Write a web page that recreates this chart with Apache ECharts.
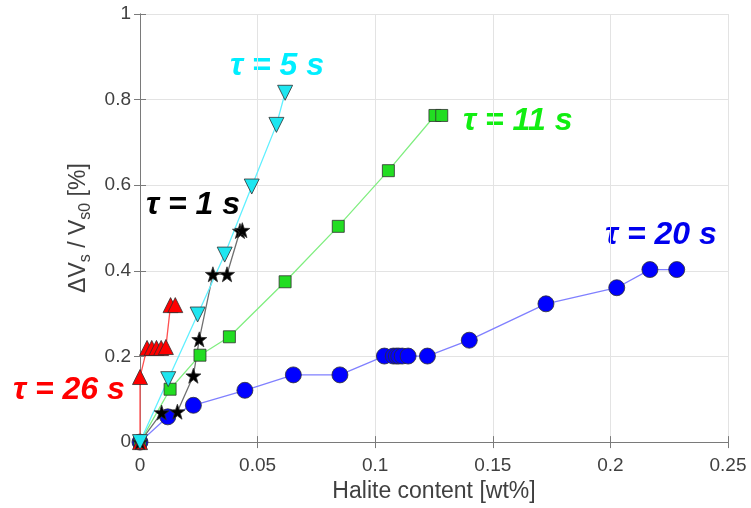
<!DOCTYPE html>
<html>
<head>
<meta charset="utf-8">
<script src="https://cdn.jsdelivr.net/npm/echarts@6/dist/echarts.min.js"></script>
<style>
  html, body { margin: 0; padding: 0; background: #fff; }
  #main { width: 751px; height: 508px; }
</style>
</head>
<body>
<div id="main"></div>
<script>
// halite content [wt%] vs dVs/Vs0 [%], one pair of arrays per residence time
var xTicks = [0, 0.05, 0.1, 0.15, 0.2, 0.25];
var yTicks = [0, 0.2, 0.4, 0.6, 0.8, 1];

var tau26X = [0, 0, 0.003, 0.005, 0.007, 0.009, 0.011, 0.013, 0.015];
var tau26Y = [0, 0.152, 0.22, 0.22, 0.22, 0.22, 0.222, 0.32, 0.32];

var tau1X = [0, 0.0092, 0.0159, 0.0227, 0.0252, 0.031, 0.037, 0.0425, 0.0435];
var tau1Y = [0, 0.069, 0.071, 0.155, 0.24, 0.392, 0.392, 0.493, 0.495];

var tau11X = [0, 0.0128, 0.0255, 0.038, 0.0617, 0.0843, 0.1056, 0.1254, 0.1283];
var tau11Y = [0, 0.1235, 0.203, 0.246, 0.3745, 0.504, 0.634, 0.763, 0.763];

var tau20X = [0, 0.0118, 0.0227, 0.0446, 0.0652, 0.085, 0.1039, 0.1077, 0.109,
  0.110, 0.1115, 0.114, 0.1222, 0.140, 0.1726, 0.2027, 0.2168, 0.2282];
var tau20Y = [0, 0.059, 0.086, 0.121, 0.157, 0.157, 0.201, 0.201, 0.201,
  0.201, 0.201, 0.201, 0.201, 0.238, 0.323, 0.3606, 0.403, 0.403];

var tau5X = [0, 0.012, 0.0245, 0.036, 0.0475, 0.058, 0.0617];
var tau5Y = [0, 0.147, 0.298, 0.438, 0.597, 0.741, 0.816];

var STAR = "path://M0,-10L2.35,-3.24L9.51,-3.09L3.8,1.24L5.88,8.09L0,4L-5.88,8.09L-3.8,1.24L-9.51,-3.09L-2.35,-3.24Z";

function pairs(xs, ys) {
  return xs.map(function (x, i) { return [x, ys[i]]; });
}

function makeSeries(name, xs, ys, symbol, size, fill, lineColor, rotate) {
  return {
    name: name,
    type: "line",
    data: pairs(xs, ys),
    symbol: symbol,
    symbolSize: size,
    symbolRotate: rotate || 0,
    showAllSymbol: true,
    lineStyle: { color: lineColor, width: 1.3 },
    itemStyle: { color: fill, borderColor: "#303030", borderWidth: 0.8 },
    emphasis: { disabled: true },
    animation: false
  };
}

// curve labels, x = left edge, y = middle of the digits
function tauLabel(text, x, y, color) {
  return {
    type: "text",
    x: x,
    y: y,
    style: {
      text: text,
      fill: color,
      font: "italic bold 32px Liberation Sans",
      textAlign: "left",
      textVerticalAlign: "middle"
    }
  };
}

var font = "Liberation Sans";
var tickColor = "#404040";
var frameColor = "#7a7a7a";

var chart = echarts.init(document.getElementById("main"));
var option = {
  animation: false,
  grid: { left: 140, right: 23, top: 14, bottom: 65 },
  xAxis: [
    {
      type: "value",
      min: 0,
      max: 0.25,
      interval: 0.05,
      name: "Halite content [wt%]",
      nameLocation: "middle",
      nameGap: 37,
      nameTextStyle: { fontFamily: font, fontSize: 23, color: tickColor },
      axisLine: { show: true, lineStyle: { color: frameColor, width: 1 } },
      axisTick: { show: true, inside: true, length: 6, lineStyle: { color: frameColor } },
      axisLabel: { fontFamily: font, fontSize: 19, color: tickColor, margin: 14 },
      splitLine: { show: true, lineStyle: { color: "#e3e3e3" } }
    },
    {
      type: "value",
      position: "top",
      min: 0,
      max: 0.25,
      interval: 0.05,
      axisLine: { show: true, lineStyle: { color: frameColor, width: 1 } },
      axisTick: { show: true, inside: true, length: 6, lineStyle: { color: frameColor } },
      axisLabel: { show: false },
      splitLine: { show: false }
    }
  ],
  yAxis: [
    {
      type: "value",
      min: 0,
      max: 1,
      interval: 0.2,
      name: "{n|ΔV}{s|s}{n| / V}{s|s0}{n| [%]}",
      nameLocation: "middle",
      nameGap: 43,
      nameRotate: 90,
      nameTextStyle: {
        color: tickColor,
        rich: {
          n: { fontFamily: font, fontSize: 23, color: tickColor, lineHeight: 30 },
          s: { fontFamily: font, fontSize: 16, color: tickColor, lineHeight: 30, padding: [14, 0, 0, 0] }
        }
      },
      axisLine: { show: true, lineStyle: { color: frameColor, width: 1 } },
      axisTick: { show: true, inside: true, length: 6, lineStyle: { color: frameColor } },
      axisLabel: { fontFamily: font, fontSize: 19, color: tickColor, margin: 9 },
      splitLine: { show: true, lineStyle: { color: "#e3e3e3" } }
    },
    {
      type: "value",
      position: "right",
      min: 0,
      max: 1,
      interval: 0.2,
      axisLine: { show: true, lineStyle: { color: frameColor, width: 1 } },
      axisTick: { show: true, inside: true, length: 6, lineStyle: { color: frameColor } },
      axisLabel: { show: false },
      splitLine: { show: false }
    }
  ],
  series: [
    makeSeries("τ = 20 s", tau20X, tau20Y, "circle", 16, "#0000ff", "#8080ff"),
    makeSeries("τ = 11 s", tau11X, tau11Y, "rect", 12, "#22dd22", "#80ee80"),
    makeSeries("τ = 26 s", tau26X, tau26Y, "triangle", 15, "#ff0000", "#ff5050"),
    makeSeries("τ = 1 s", tau1X, tau1Y, STAR, 15, "#000000", "#707070"),
    makeSeries("τ = 5 s", tau5X, tau5Y, "triangle", 15, "#1ee6f0", "#60f0ff", 180)
  ],
  graphic: [
    tauLabel("τ = 5 s", 230, 66, "#00eeff"),
    tauLabel("τ = 11 s", 463, 121, "#11ee11"),
    tauLabel("τ = 1 s", 146, 205, "#000000"),
    tauLabel("τ = 20 s", 605, 235, "#0000ee"),
    tauLabel("τ = 26 s", 13, 390, "#ff0000")
  ]
};
chart.setOption(option);
</script>
</body>
</html>
